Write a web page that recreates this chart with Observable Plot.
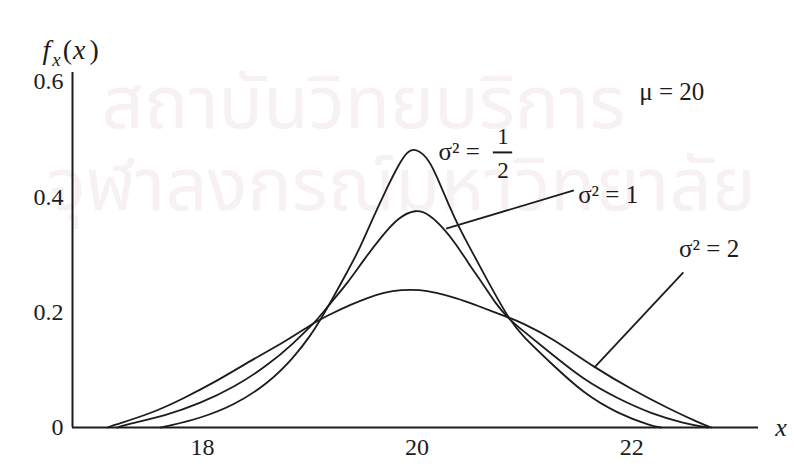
<!DOCTYPE html>
<html><head><meta charset="utf-8">
<script src="https://cdn.jsdelivr.net/npm/d3@7"></script>
<script src="https://cdn.jsdelivr.net/npm/@observablehq/plot@0.6"></script>
<style>body{margin:0;background:#fff}#chart{width:794px;height:467px}</style>
</head><body><div id="chart"></div>
<script>
// Curve σ² = 1/2
const halfX = [17.61,17.67,17.98,18.29,18.61,18.85,19.01,19.10,19.22,19.35,19.47,19.59,19.72,19.82,19.91,19.99,20.11,20.20,20.29,20.39,20.52,20.64,20.76,20.85,20.97,21.25,21.55,21.87,22.18,22.27];
const halfY = [0,0.002,0.016,0.038,0.076,0.121,0.160,0.187,0.226,0.270,0.312,0.364,0.416,0.453,0.480,0.484,0.466,0.428,0.388,0.347,0.302,0.260,0.220,0.191,0.160,0.111,0.059,0.024,0.003,0];
// Curve σ² = 1
const oneX = [17.21,17.24,17.67,17.98,18.29,18.61,18.85,19.01,19.07,19.19,19.35,19.50,19.66,19.82,19.99,20.11,20.24,20.36,20.48,20.61,20.73,20.85,20.97,21.25,21.55,21.87,22.18,22.49,22.71];
const oneY = [0,0.003,0.021,0.042,0.069,0.108,0.146,0.176,0.187,0.215,0.250,0.290,0.329,0.364,0.379,0.370,0.347,0.319,0.284,0.250,0.215,0.189,0.170,0.128,0.083,0.050,0.024,0.007,0];
// Curve σ² = 2
const twoX = [17.12,17.14,17.52,17.82,18.14,18.45,18.76,18.98,19.07,19.22,19.38,19.54,19.69,19.85,20.03,20.17,20.36,20.54,20.73,20.85,20.97,21.25,21.65,22.02,22.34,22.64,22.74];
const twoY = [0,0.002,0.024,0.050,0.081,0.116,0.148,0.174,0.185,0.199,0.213,0.225,0.234,0.239,0.239,0.234,0.225,0.213,0.199,0.191,0.182,0.156,0.104,0.064,0.033,0.007,0];

const seriesNames = ["1/2", "1", "2"];
const xTicks = [18, 20, 22];
const yTicks = [0, 0.2, 0.4, 0.6];
const xDomain = [16.79, 23.18];
const yDomain = [0, 0.6156];

// annotation texts and anchors (data units)
const labelTexts = ["σ² =", "1", "2", "σ² = 1", "σ² = 2", "μ = 20", "fx(x)", "x"];
const labelX = [20.20, 20.80, 20.80, 21.50, 22.44, 22.07, 16.51, 23.39];
const labelY = [0.477, 0.504, 0.445, 0.404, 0.310, 0.582, 0.654, 0.0];
const leaderX1 = [21.46, 22.48];
const leaderY1 = [0.411, 0.269];
const leaderX2 = [20.27, 21.65];
const leaderY2 = [0.345, 0.104];
const fractionBar = {y: 0.477, x1: 20.71, x2: 20.89};
const watermark = ["สถาบันวิทยบริการ", "จุฬาลงกรณ์มหาวิทยาลัย"];
const watermarkX = [19.50, 19.85];
const watermarkY = [0.560, 0.418];

const curves = [
  ...halfX.map((x, i) => ({series: seriesNames[0], x, y: halfY[i]})),
  ...oneX.map((x, i) => ({series: seriesNames[1], x, y: oneY[i]})),
  ...twoX.map((x, i) => ({series: seriesNames[2], x, y: twoY[i]}))
];
const labels = labelTexts.map((t, i) => ({t, x: labelX[i], y: labelY[i]}));
const leaders = leaderX1.map((x1, i) => ({x1, y1: leaderY1[i], x2: leaderX2[i], y2: leaderY2[i]}));
const wm = watermark.map((t, i) => ({t, x: watermarkX[i], y: watermarkY[i]}));

const ink = "#1c1c1c";
const plot = Plot.plot({
  width: 794, height: 467,
  marginLeft: 72, marginRight: 36, marginTop: 72, marginBottom: 40,
  x: {domain: xDomain},
  y: {domain: yDomain},
  style: {fontFamily: "'Liberation Serif', 'DejaVu Serif', serif", fontSize: "24px", color: ink, background: "white"},
  marks: [
    Plot.text(wm, {x: "x", y: "y", text: "t", fontSize: 74, fill: "#f7f1f3", fontFamily: "'Noto Sans Thai','Noto Sans','DejaVu Sans',sans-serif"}),
    Plot.axisX({ticks: xTicks, tickSize: 0, tickPadding: 10, tickFormat: d => String(d), label: null, fontSize: 24}),
    Plot.axisY({ticks: yTicks, tickSize: 0, tickPadding: 9, tickFormat: d => d === 0 ? "0" : d.toFixed(1), label: null, fontSize: 24}),
    Plot.ruleX([xDomain[0]], {stroke: ink, strokeWidth: 2}),
    Plot.ruleY([0], {stroke: ink, strokeWidth: 2}),
    Plot.line(curves, {x: "x", y: "y", z: "series", stroke: ink, strokeWidth: 1.8, curve: "basis"}),
    Plot.link(leaders, {x1: "x1", y1: "y1", x2: "x2", y2: "y2", stroke: ink, strokeWidth: 1.8}),
    Plot.ruleY([fractionBar], {y: "y", x1: "x1", x2: "x2", stroke: ink, strokeWidth: 2}),
    Plot.text(labels.filter(d => d.t !== "fx(x)" && d.t !== "1" && d.t !== "2" && d.t !== "x"), {x: "x", y: "y", text: "t", textAnchor: "start", fontSize: 25, fill: ink}),
    Plot.text(labels.filter(d => d.t === "1" || d.t === "2"), {x: "x", y: "y", text: "t", textAnchor: "middle", fontSize: 23, fill: ink}),
    Plot.text(labels.filter(d => d.t === "x"), {x: "x", y: "y", text: "t", textAnchor: "middle", fontSize: 26, fontStyle: "italic", fill: ink}),
    Plot.text(labels.filter(d => d.t === "fx(x)"), {x: "x", y: "y", text: "t", textAnchor: "start", fontSize: 28, fill: ink, className: "flabel"})
  ]
});
document.getElementById("chart").appendChild(plot);
d3.select(plot).selectAll(".flabel text").each(function() {
  const t = d3.select(this);
  t.text(null);
  t.append("tspan").attr("font-style", "italic").text("f");
  t.append("tspan").attr("font-style", "italic").attr("font-size", 19).attr("dx", 2).attr("dy", 7).text("x");
  t.append("tspan").attr("dy", -7).attr("dx", 2).text("(");
  t.append("tspan").attr("font-style", "italic").attr("dx", 1).text("x");
  t.append("tspan").attr("dx", 4).text(")");
});
</script></body></html>
